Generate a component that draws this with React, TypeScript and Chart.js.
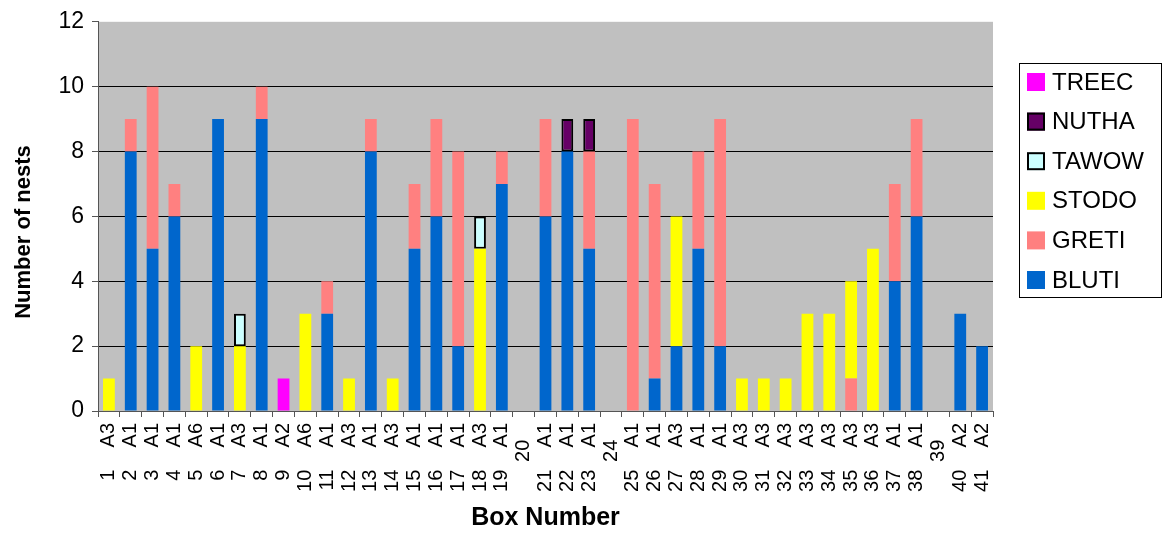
import { useEffect, useRef } from "react";
import { Chart, registerables } from "chart.js";

Chart.register(...registerables);

// Nest boxes, in order along the axis
const boxNumbers = [
  "1", "2", "3", "4", "5", "6", "7", "8", "9", "10",
  "11", "12", "13", "14", "15", "16", "17", "18", "19", "20",
  "21", "22", "23", "24", "25", "26", "27", "28", "29", "30",
  "31", "32", "33", "34", "35", "36", "37", "38", "39", "40", "41",
];

// Habitat code of each box ("" where none is recorded)
const habitatCodes = [
  "A3", "A1", "A1", "A1", "A6", "A1", "A3", "A1", "A2", "A6",
  "A1", "A3", "A1", "A3", "A1", "A1", "A1", "A3", "A1", "",
  "A1", "A1", "A1", "", "A1", "A1", "A3", "A1", "A1", "A3",
  "A3", "A3", "A3", "A3", "A3", "A3", "A1", "A1", "", "A2", "A2",
];

// Nests per species in each box
const BLUTI = [
  0, 8, 5, 6, 0, 9, 0, 9, 0, 0,
  3, 0, 8, 0, 5, 6, 2, 0, 7, 0,
  6, 8, 5, 0, 0, 1, 2, 5, 2, 0,
  0, 0, 0, 0, 0, 0, 4, 6, 0, 3, 2,
];
const GRETI = [
  0, 1, 5, 1, 0, 0, 0, 1, 0, 0,
  1, 0, 1, 0, 2, 3, 6, 0, 1, 0,
  3, 0, 3, 0, 9, 6, 0, 3, 7, 0,
  0, 0, 0, 0, 1, 0, 3, 3, 0, 0, 0,
];
const STODO = [
  1, 0, 0, 0, 2, 0, 2, 0, 0, 3,
  0, 1, 0, 1, 0, 0, 0, 5, 0, 0,
  0, 0, 0, 0, 0, 0, 4, 0, 0, 1,
  1, 1, 3, 3, 3, 5, 0, 0, 0, 0, 0,
];
const TAWOW = [
  0, 0, 0, 0, 0, 0, 1, 0, 0, 0,
  0, 0, 0, 0, 0, 0, 0, 1, 0, 0,
  0, 0, 0, 0, 0, 0, 0, 0, 0, 0,
  0, 0, 0, 0, 0, 0, 0, 0, 0, 0, 0,
];
const NUTHA = [
  0, 0, 0, 0, 0, 0, 0, 0, 0, 0,
  0, 0, 0, 0, 0, 0, 0, 0, 0, 0,
  0, 1, 1, 0, 0, 0, 0, 0, 0, 0,
  0, 0, 0, 0, 0, 0, 0, 0, 0, 0, 0,
];
const TREEC = [
  0, 0, 0, 0, 0, 0, 0, 0, 1, 0,
  0, 0, 0, 0, 0, 0, 0, 0, 0, 0,
  0, 0, 0, 0, 0, 0, 0, 0, 0, 0,
  0, 0, 0, 0, 0, 0, 0, 0, 0, 0, 0,
];

const Y_MIN = 0;
const Y_MAX = 12;
const Y_STEP = 2;

const FONT = "'Liberation Sans', Arial, Helvetica, sans-serif";

// Box number and habitat code share one rotated label
const categoryLabels = boxNumbers.map((n, i) =>
  habitatCodes[i] ? `${n}    ${habitatCodes[i]}` : `${n}   `
);

// Empty segments are left out rather than drawn with zero height
const segment = (values: number[]) => values.map((v) => (v > 0 ? v : null));

const plotBackground = {
  id: "plotBackground",
  beforeDraw(chart: any) {
    const { ctx, chartArea } = chart;
    ctx.save();
    ctx.fillStyle = "#C0C0C0";
    ctx.fillRect(chartArea.left, chartArea.top, chartArea.right - chartArea.left, chartArea.bottom - chartArea.top);
    ctx.restore();
  },
};

const leftTitle = {
  id: "leftTitle",
  afterDraw(chart: any, _args: any, opts: any) {
    const { ctx } = chart;
    ctx.save();
    ctx.translate(opts.x, opts.y);
    ctx.rotate(-Math.PI / 2);
    ctx.font = `bold ${opts.size}px ${FONT}`;
    ctx.fillStyle = "#000";
    ctx.textAlign = "center";
    ctx.textBaseline = "middle";
    ctx.fillText(opts.text, 0, 0);
    ctx.restore();
  },
};

const boxedLegend = {
  id: "boxedLegend",
  afterDraw(chart: any, _args: any, opts: any) {
    const { ctx } = chart;
    ctx.save();
    ctx.strokeStyle = "#000";
    ctx.lineWidth = 1;
    ctx.strokeRect(opts.left + 0.5, opts.top + 0.5, opts.right - opts.left, opts.bottom - opts.top);
    const items = [...chart.data.datasets].reverse();
    items.forEach((ds: any, i: number) => {
      const cy = opts.firstY + i * opts.step;
      const sx = opts.left + opts.swatchInset;
      const s = opts.swatch;
      ctx.fillStyle = ds.backgroundColor;
      ctx.fillRect(sx, cy - s / 2, s, s);
      if (ds.borderWidth) {
        ctx.strokeStyle = ds.borderColor;
        ctx.lineWidth = 2;
        ctx.strokeRect(sx + 1, cy - s / 2 + 1, s - 2, s - 2);
      }
      ctx.fillStyle = "#000";
      ctx.font = `${opts.size}px ${FONT}`;
      ctx.textAlign = "left";
      ctx.textBaseline = "middle";
      ctx.fillText(ds.label, opts.left + opts.textInset, cy + 1);
    });
    ctx.restore();
  },
};

export default function App() {
  const canvasRef = useRef<HTMLCanvasElement | null>(null);

  useEffect(() => {
    if (!canvasRef.current) return;

    const barCommon = {
      barPercentage: 0.54,
      categoryPercentage: 1,
      stack: "nests",
      borderSkipped: false as const,
    };

    const chart = new Chart(canvasRef.current, {
      type: "bar",
      data: {
        labels: categoryLabels,
        datasets: [
          { ...barCommon, label: "BLUTI", data: segment(BLUTI), backgroundColor: "#0066CC", borderWidth: 0 },
          { ...barCommon, label: "GRETI", data: segment(GRETI), backgroundColor: "#FF8080", borderWidth: 0 },
          { ...barCommon, label: "STODO", data: segment(STODO), backgroundColor: "#FFFF00", borderWidth: 0 },
          { ...barCommon, label: "TAWOW", data: segment(TAWOW), backgroundColor: "#CCFFFF", borderColor: "#000000", borderWidth: 2 },
          { ...barCommon, label: "NUTHA", data: segment(NUTHA), backgroundColor: "#660066", borderColor: "#000000", borderWidth: 2 },
          { ...barCommon, label: "TREEC", data: segment(TREEC), backgroundColor: "#FF00FF", borderWidth: 0 },
        ],
      },
      options: {
        responsive: false,
        animation: false,
        layout: { padding: { left: 0, top: 19, right: 169, bottom: 0 } },
        plugins: {
          legend: { display: false },
          tooltip: { enabled: false },
          leftTitle: { text: "Number of nests", x: 24, y: 232, size: 22 },
          boxedLegend: {
            left: 1019, top: 63, right: 1161, bottom: 297,
            firstY: 82, step: 39.6, swatch: 18, swatchInset: 8, textInset: 33, size: 24,
          },
        } as any,
        scales: {
          x: {
            stacked: true,
            offset: true,
            grid: {
              display: true,
              drawOnChartArea: false,
              drawTicks: true,
              tickLength: 6,
              color: "#555555",
              offset: true,
            },
            border: { display: true, color: "#555555", width: 1 },
            ticks: {
              autoSkip: false,
              minRotation: 90,
              maxRotation: 90,
              padding: 6,
              color: "#000",
              font: { family: FONT, size: 20 },
            },
            title: {
              display: true,
              text: "Box Number",
              color: "#000",
              font: { family: FONT, size: 25, weight: "bold" },
              padding: { top: 0, bottom: 0 },
            },
            afterFit(scale: any) {
              scale.height = 122;
            },
          },
          y: {
            stacked: true,
            min: Y_MIN,
            max: Y_MAX,
            ticks: {
              stepSize: Y_STEP,
              padding: 8,
              color: "#000",
              font: { family: FONT, size: 23 },
            },
            grid: {
              color: (c: any) =>
                c.tick && (c.tick.value === Y_MIN || c.tick.value === Y_MAX) ? "rgba(0,0,0,0)" : "#000000",
              lineWidth: 1,
              drawTicks: true,
              tickLength: 6,
              tickColor: "#555555",
            },
            border: { display: true, color: "#555555", width: 1 },
            afterFit(scale: any) {
              scale.width = 98;
            },
          },
        },
      },
      plugins: [plotBackground, leftTitle, boxedLegend],
    });

    return () => chart.destroy();
  }, []);

  return (
    <div style={{ position: "absolute", left: 0, top: 0, width: 1162, height: 533, background: "#fff" }}>
      <canvas ref={canvasRef} width={1162} height={533} style={{ display: "block" }} />
    </div>
  );
}
